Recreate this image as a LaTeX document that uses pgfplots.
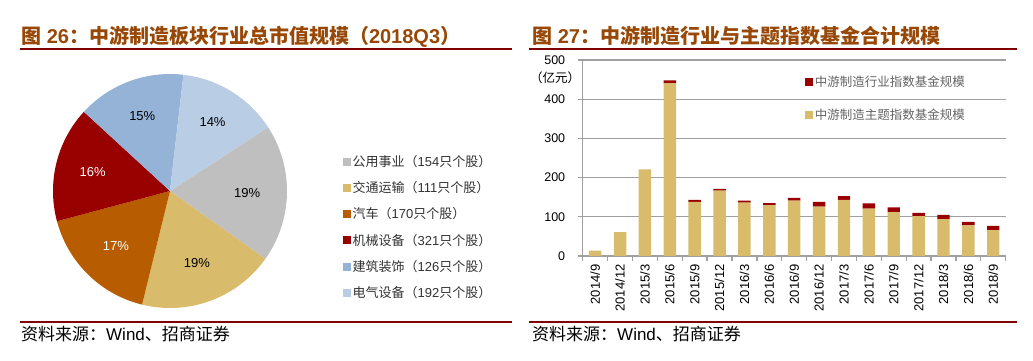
\documentclass[border=0pt]{standalone}
\usepackage{fontspec}
\setmainfont{Liberation Sans}
\newfontfamily\cjk{Noto Sans CJK SC}
\usepackage{pgfplots}
\usepackage{pgfplotstable}
\pgfplotsset{compat=1.18}
\definecolor{tbrown}{RGB}{152,72,6}
\definecolor{tline}{RGB}{128,0,0}
\definecolor{pgray}{RGB}{191,191,191}
\definecolor{ptan}{RGB}{216,188,108}
\definecolor{porange}{RGB}{184,92,0}
\definecolor{pred}{RGB}{153,0,0}
\definecolor{pblue}{RGB}{149,179,215}
\definecolor{plblue}{RGB}{185,205,229}
\definecolor{gridc}{RGB}{160,160,160}
\definecolor{legtext}{RGB}{100,100,100}
\definecolor{ltext}{RGB}{50,50,50}
\newcommand\zh[1]{{\cjk #1}}

\pgfplotstableread{
x tan red
0 14 0
1 61 0
2 221 0
3 441 7
4 138 5
5 167 4
6 136 5
7 130 5
8 141 7
9 126 12
10 143 10
11 121 13
12 112 12
13 102 8
14 94 11
15 78 9
16 66 11
}\fund

\begin{document}
\begin{tikzpicture}[x=1pt,y=1pt]
\useasboundingbox (0,0) rectangle (1033,361);
% titles
\node[anchor=base west, inner sep=0, text=tbrown, font=\bfseries\fontsize{20}{20}\selectfont] at (21,317.7)
  {\zh{图} 26\zh{：中游制造板块行业总市值规模（}2018Q3\zh{）}};
\node[anchor=base west, inner sep=0, text=tbrown, font=\bfseries\fontsize{20}{20}\selectfont] at (532,317.7)
  {\zh{图} 27\zh{：中游制造行业与主题指数基金合计规模}};
\draw[tline, line width=2] (20,311.5) -- (512,311.5);
\draw[tline, line width=2] (529,311.5) -- (1017,311.5);
\draw[tline, line width=2] (20,38.7) -- (512,38.7);
\draw[tline, line width=2] (529,38.7) -- (1017,38.7);
\node[anchor=west, inner sep=0, font=\fontsize{17}{17}\selectfont] at (21,27)
  {\zh{资料来源：}Wind\zh{、招商证券}};
\node[anchor=west, inner sep=0, font=\fontsize{17}{17}\selectfont] at (532,27)
  {\zh{资料来源：}Wind\zh{、招商证券}};

% pie angles (math degrees, clockwise from 33 deg)
\pgfmathsetmacro\aA{33}
\pgfmathsetmacro\aB{\aA-3.6*19}
\pgfmathsetmacro\aC{\aB-3.6*19}
\pgfmathsetmacro\aD{\aC-3.6*17}
\pgfmathsetmacro\aE{\aD-3.6*16}
\pgfmathsetmacro\aF{\aE-3.6*15}
\pgfmathsetmacro\aG{\aF-3.6*14}

\begin{axis}[at={(53pt,53pt)}, anchor=south west, width=234pt, height=234pt, scale only axis,
  xmin=-1, xmax=1, ymin=-1, ymax=1, hide axis, clip=false,
  area legend,
  legend image code/.code={\fill[#1] (0pt,-4pt) rectangle (8pt,4pt);},
  legend style={at={(1.226,0.668)}, anchor=north west, draw=none, fill=none,
    font=\fontsize{13}{13}\selectfont, text=ltext, row sep=10.6pt,
    nodes={inner sep=1.5pt, anchor=west}},
  legend cell align=left]
\addplot[fill=pgray, draw=none, domain=\aB:\aA, samples=60] ({cos(x)},{sin(x)}) -- (axis cs:0,0) -- cycle;
\addlegendentry{\zh{公用事业（}154\zh{只个股）}}
\addplot[fill=ptan, draw=none, domain=\aC:\aB, samples=60] ({cos(x)},{sin(x)}) -- (axis cs:0,0) -- cycle;
\addlegendentry{\zh{交通运输（}111\zh{只个股）}}
\addplot[fill=porange, draw=none, domain=\aD:\aC, samples=60] ({cos(x)},{sin(x)}) -- (axis cs:0,0) -- cycle;
\addlegendentry{\zh{汽车（}170\zh{只个股）}}
\addplot[fill=pred, draw=none, domain=\aE:\aD, samples=60] ({cos(x)},{sin(x)}) -- (axis cs:0,0) -- cycle;
\addlegendentry{\zh{机械设备（}321\zh{只个股）}}
\addplot[fill=pblue, draw=none, domain=\aF:\aE, samples=60] ({cos(x)},{sin(x)}) -- (axis cs:0,0) -- cycle;
\addlegendentry{\zh{建筑装饰（}126\zh{只个股）}}
\addplot[fill=plblue, draw=none, domain=\aG:\aF, samples=60] ({cos(x)},{sin(x)}) -- (axis cs:0,0) -- cycle;
\addlegendentry{\zh{电气设备（}192\zh{只个股）}}
\begin{scope}[font=\fontsize{13}{13}\selectfont]
\node[text=black] at (axis cs:{0.66*cos((\aA+\aB)/2)},{0.66*sin((\aA+\aB)/2)}) {19\%};
\node[text=black] at (axis cs:{0.66*cos((\aB+\aC)/2)},{0.66*sin((\aB+\aC)/2)}) {19\%};
\node[text=white] at (axis cs:{0.66*cos((\aC+\aD)/2)},{0.66*sin((\aC+\aD)/2)}) {17\%};
\node[text=white] at (axis cs:{0.68*cos((\aD+\aE)/2)},{0.68*sin((\aD+\aE)/2)}) {16\%};
\node[text=black] at (axis cs:{0.68*cos((\aE+\aF)/2)},{0.68*sin((\aE+\aF)/2)}) {15\%};
\node[text=black] at (axis cs:{0.69*cos((\aF+\aG)/2)},{0.69*sin((\aF+\aG)/2)}) {14\%};
\end{scope}
\end{axis}

% bar chart
\node[font=\fontsize{12.5}{12.5}\selectfont, inner sep=0] at (555,283.3) {\zh{（亿元）}};
\begin{axis}[at={(582.7pt,105pt)}, anchor=south west, width=423pt, height=196pt, scale only axis,
  ybar stacked, bar width=0.5,
  xmin=-0.5, xmax=16.5, ymin=0, ymax=500,
  ytick={0,100,...,500}, xtick={0,...,16},
  xticklabels={2014/9,2014/12,2015/3,2015/6,2015/9,2015/12,2016/3,2016/6,2016/9,2016/12,2017/3,2017/6,2017/9,2017/12,2018/3,2018/6,2018/9},
  minor xtick={-0.5,0.5,...,16.5},
  axis x line*=bottom, axis y line*=left,
  axis line style={draw=gridc, line width=1.5},
  ymajorgrids, grid style={draw=gridc, line width=1.3},
  tick align=outside, major tick length=5pt, minor tick length=5pt,
  major x tick style={draw=none},
  minor x tick style={draw=gridc, line width=1.3},
  ytick style={draw=gridc, line width=1.3},
  /pgf/number format/assume math mode=true,
  tick label style={font=\fontsize{12.5}{12.5}\selectfont, text=black},
  x tick label style={rotate=90, anchor=east, font=\fontsize{13}{13}\selectfont},
  yticklabel style={xshift=-9pt},
  reverse legend,
  legend image code/.code={\fill[#1] (0pt,-4pt) rectangle (8pt,4pt);},
  legend style={at={(0.519,0.936)}, anchor=north west, draw=none, fill=none,
    font=\fontsize{12.5}{12.5}\selectfont, text=legtext, row sep=18pt,
    nodes={inner sep=1.5pt, anchor=west}},
  legend cell align=left]
\addplot[fill=ptan, draw=none] table[x=x, y=tan] {\fund};
\addlegendentry{\zh{中游制造主题指数基金规模}}
\addplot[fill=pred, draw=none] table[x=x, y=red] {\fund};
\addlegendentry{\zh{中游制造行业指数基金规模}}
\end{axis}
\end{tikzpicture}
\end{document}
